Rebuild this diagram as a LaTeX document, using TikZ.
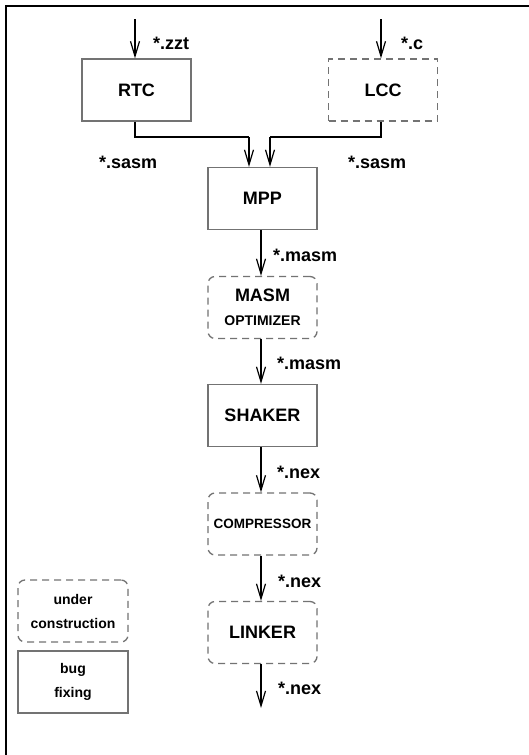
\documentclass[tikz,border=0pt]{standalone}
\usepackage{fontspec}
\setmainfont{Liberation Sans}
\usetikzlibrary{arrows.meta}
\begin{document}
\begin{tikzpicture}[x=1pt,y=-1pt,
  box/.style={draw=black!55,line width=1.3pt,minimum width=109pt,minimum height=62pt,inner sep=0pt,font=\bfseries\fontsize{18}{20}\selectfont,align=center},
  sqdbox/.style={box,dashed,dash pattern=on 7pt off 5pt},
  dbox/.style={sqdbox,rounded corners=7pt},
  lbl/.style={font=\bfseries\fontsize{18}{20}\selectfont,anchor=west,inner sep=0pt},
  arr/.style={draw=black,line width=1.2pt,-{Straight Barb[length=15pt,width=9pt,line width=1.2pt]}},
  wire/.style={draw=black,line width=1.2pt}]
\useasboundingbox (0,0) rectangle (528,755);
\fill[white] (0,0) rectangle (528,755);
\draw[line width=2pt] (6,760) -- (6,6) -- (535,6);
% boxes
\node[box] (rtc) at (136.5,90) {RTC};
\node[sqdbox] (lcc) at (383,90) {LCC};
\node[box] (mpp) at (262.5,198.5) {MPP};
\node[dbox] (masm) at (262.5,307.5) {MASM\\[4pt]{\fontsize{14}{16}\selectfont OPTIMIZER}};
\node[box] (shaker) at (262.5,415.5) {SHAKER};
\node[dbox,font=\bfseries\fontsize{13.5}{16}\selectfont] (comp) at (262.5,524) {COMPRESSOR};
\node[dbox] (linker) at (262.5,632.5) {LINKER};
\node[dbox,minimum width=110pt,font=\bfseries\fontsize{14}{16}\selectfont] (uc) at (73,611) {under\\[8pt]construction};
\node[box,minimum width=110pt,font=\bfseries\fontsize{14}{16}\selectfont] (bf) at (73,682) {bug\\[8pt]fixing};
% inputs
\coordinate (inr) at (135,19);
\coordinate (inl) at (381,19);
\draw[arr] (inr) -- (inr |- rtc.north);
\draw[arr] (inl) -- (inl |- lcc.north);
\node[lbl] (lzzt) at (153,43) {*.zzt};
\node[lbl] (lc) at (401,43) {*.c};
% merge
\coordinate (jr) at (135,137);
\coordinate (jl) at (381,137);
\coordinate (mr) at (249,137);
\coordinate (ml) at (270,137);
\draw[wire] (jr |- rtc.south) -- (jr) -- (mr);
\draw[arr] (mr) -- (mr |- mpp.north);
\draw[wire] (jl |- lcc.south) -- (jl) -- (ml);
\draw[arr] (ml) -- (ml |- mpp.north);
\node[lbl] (ls1) at (99,162) {*.sasm};
\node[lbl] (ls2) at (348,162) {*.sasm};
% chain
\draw[arr] ([xshift=-1.5pt]mpp.south) -- ([xshift=-1.5pt]masm.north);
\node[lbl] (lm1) at (273,255) {*.masm};
\draw[arr] ([xshift=-1.5pt]masm.south) -- ([xshift=-1.5pt]shaker.north);
\node[lbl] (lm2) at (277,363) {*.masm};
\draw[arr] ([xshift=-1.5pt]shaker.south) -- ([xshift=-1.5pt]comp.north);
\node[lbl] (ln1) at (277,472) {*.nex};
\draw[arr] ([xshift=-1.5pt]comp.south) -- ([xshift=-1.5pt]linker.north);
\node[lbl] (ln2) at (278,581) {*.nex};
\coordinate (out) at (261,708);
\draw[arr] ([xshift=-1.5pt]linker.south) -- (out);
\node[lbl] (ln3) at (278,688) {*.nex};
\end{tikzpicture}
\end{document}
